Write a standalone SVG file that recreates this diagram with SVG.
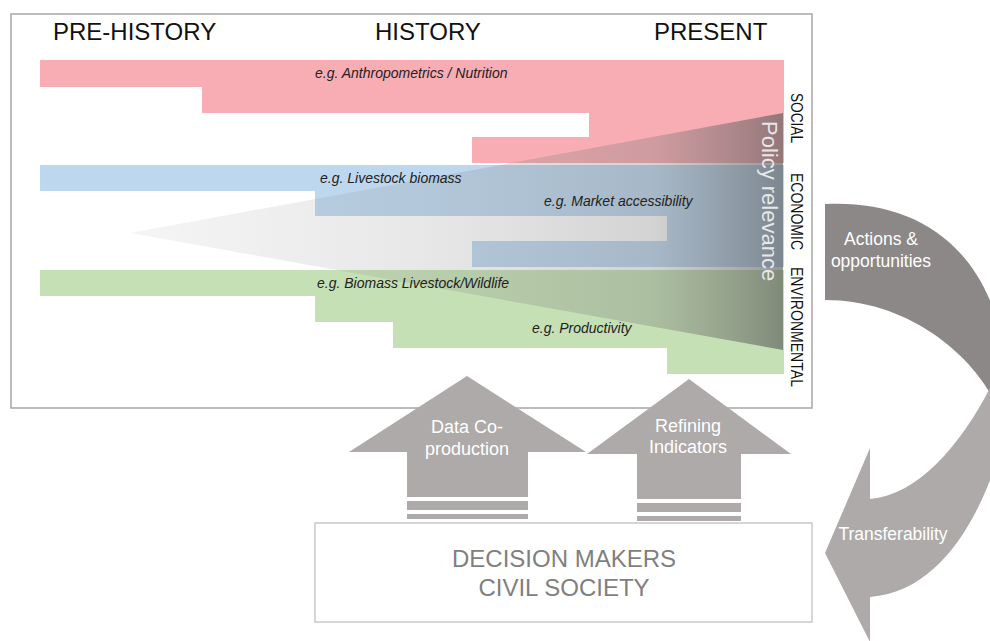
<svg xmlns="http://www.w3.org/2000/svg" width="990" height="641" viewBox="0 0 990 641">
<defs>
<style>
.hdr{font-family:"Liberation Sans",Arial,sans-serif;font-size:24px;fill:#111}
.eg{font-family:"Liberation Sans",Arial,sans-serif;font-size:14px;font-style:italic;fill:#222}
.side{font-family:"Liberation Sans",Arial,sans-serif;font-size:16px;fill:#111}
.wt{font-family:"Liberation Sans",Arial,sans-serif;font-size:18px;fill:#ffffff;text-anchor:middle}
.dm{font-family:"Liberation Sans",Arial,sans-serif;font-size:24px;fill:#7f7f7f;text-anchor:middle}
.up{fill:#aeaaa9}
</style>
<linearGradient id="cone" gradientUnits="userSpaceOnUse" x1="130" y1="0" x2="783" y2="0">
<stop offset="0" stop-color="#999999" stop-opacity="0.1"/>
<stop offset="0.45" stop-color="#888888" stop-opacity="0.2"/>
<stop offset="0.8" stop-color="#777777" stop-opacity="0.32"/>
<stop offset="1" stop-color="#555555" stop-opacity="0.62"/>
</linearGradient>
</defs>
<rect width="990" height="641" fill="#ffffff"/>
<g id="timeline-box">
<rect x="11" y="14" width="801" height="394" fill="#ffffff" stroke="#a6a6a6" stroke-width="1.5"/>
<text class="hdr" x="53" y="40">PRE-HISTORY</text>
<text class="hdr" x="375" y="40">HISTORY</text>
<text class="hdr" x="654" y="40">PRESENT</text>
</g>
<g id="social">
<path d="M40,60 H784 V163 H472 V137 H589 V113 H202 V87 H40 Z" fill="#f8adb4"/>
</g>
<g id="economic">
<path d="M40,165 H784 V267 H472 V241 H667 V216 H315 V191 H40 Z" fill="#bdd7ee"/>
</g>
<g id="environmental">
<path d="M40,270 H784 V374 H667 V348 H393 V322 H315 V296 H40 Z" fill="#c5e0b4"/>
</g>
<g id="policy-relevance">
<polygon points="130,233 783,113 783,350" fill="url(#cone)"/>
<text x="0" y="0" transform="translate(762,121) rotate(90)" font-family="Liberation Sans, Arial, sans-serif" font-size="22" fill="#f4f4f4" fill-opacity="0.9">Policy relevance</text>
</g>
<g id="examples">
<text class="eg" x="315" y="78">e.g. Anthropometrics / Nutrition</text>
<text class="eg" x="320" y="183">e.g. Livestock biomass</text>
<text class="eg" x="544" y="206">e.g. Market accessibility</text>
<text class="eg" x="317" y="288">e.g. Biomass Livestock/Wildlife</text>
<text class="eg" x="532" y="333">e.g. Productivity</text>
</g>
<g id="dimension-labels">
<text class="side" transform="translate(791,93) rotate(90)" textLength="50" lengthAdjust="spacingAndGlyphs">SOCIAL</text>
<text class="side" transform="translate(791,173) rotate(90)" textLength="77" lengthAdjust="spacingAndGlyphs">ECONOMIC</text>
<text class="side" transform="translate(791,267) rotate(90)" textLength="120" lengthAdjust="spacingAndGlyphs">ENVIRONMENTAL</text>
</g>
<g id="decision-makers">
<rect x="315" y="523" width="497" height="99" fill="#ffffff" stroke="#c8c8c8" stroke-width="1.5"/>
<text class="dm" x="564" y="567">DECISION MAKERS</text>
<text class="dm" x="564" y="596">CIVIL SOCIETY</text>
</g>
<g id="connectors">
<g id="data-coproduction">
<polygon class="up" points="467,376 586,452 528,452 528,497 407,497 407,452 349,452"/>
<rect class="up" x="407" y="501" width="121" height="9"/>
<rect class="up" x="407" y="514" width="121" height="5"/>
<text class="wt" x="467" y="433">Data Co-</text>
<text class="wt" x="467" y="455">production</text>
</g>
<g id="refining-indicators">
<polygon class="up" points="689,379 791,454 741,454 741,499 637,499 637,454 587,454"/>
<rect class="up" x="637" y="503" width="104" height="9"/>
<rect class="up" x="637" y="516" width="104" height="5"/>
<text class="wt" x="688" y="432">Refining</text>
<text class="wt" x="688" y="453">Indicators</text>
</g>
<g id="actions-opportunities">
<path d="M825,204 C905,200 975,235 1000,330 L1012,430 L990,393 C965,350 905,300 825,300 Z" fill="#8c8887"/>
<text class="wt" x="881" y="245" style="font-size:17.5px">Actions &amp;</text>
<text class="wt" x="881" y="267" style="font-size:17.5px">opportunities</text>
</g>
<g id="transferability">
<path d="M995,378 L1012,400 C1000,470 960,590 870,597 L870,642 L825,553 L870,448 L870,499 C920,495 965,440 995,378 Z" fill="#aeaaa9"/>
<text class="wt" x="893" y="540" style="font-size:17.5px">Transferability</text>
</g>
</g>
</svg>
